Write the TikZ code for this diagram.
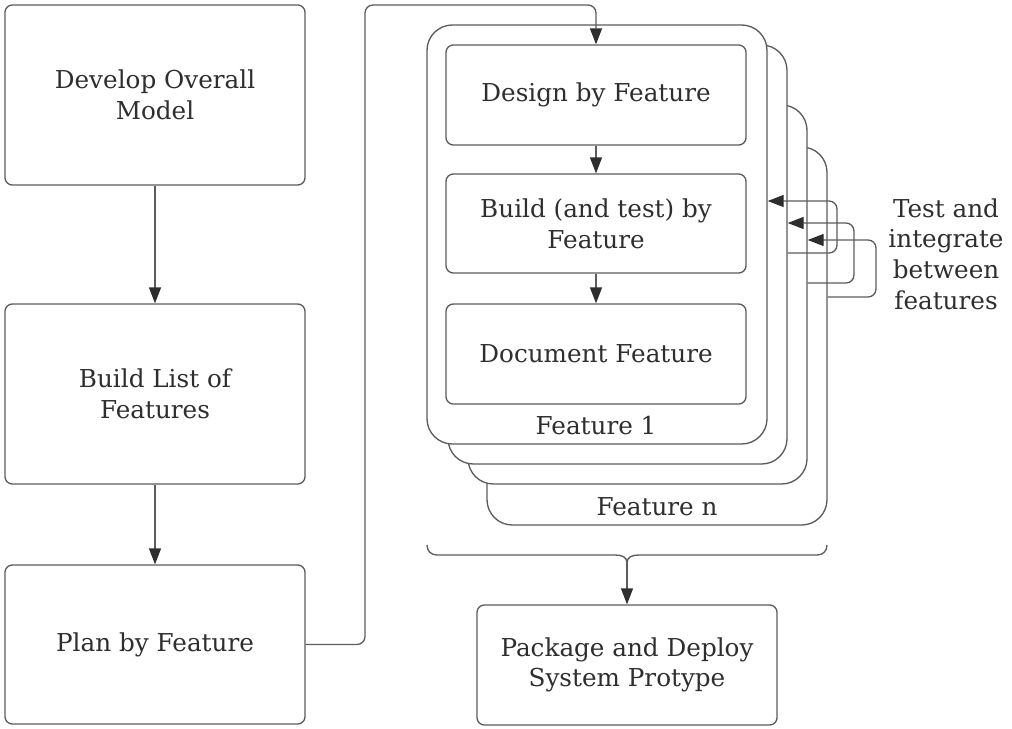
\documentclass[tikz,border=0pt]{standalone}
\usepackage{fontspec}
\setmainfont{DejaVu Serif}
\usetikzlibrary{arrows.meta}
\definecolor{ln}{HTML}{5C5C5C}
\definecolor{tx}{HTML}{2E2E2E}
\tikzset{
  box/.style={draw=ln, line width=1pt, rounded corners=5.5pt, fill=white, inner sep=0pt,
    align=center, text=tx, font=\fontsize{18.5}{23}\selectfont},
  card/.style={draw=ln, line width=1pt, rounded corners=19pt, fill=white, inner sep=0pt},
  lbl/.style={text=tx, align=center, inner sep=0pt, font=\fontsize{18.5}{23}\selectfont},
  conn/.style={draw=ln, line width=1pt, -{Triangle[length=12pt, width=9pt, fill=tx, color=tx]}},
  plain/.style={draw=ln, line width=1pt}
}
\begin{document}
\begin{tikzpicture}[x=0.75pt, y=-0.75pt]
\useasboundingbox (0,0) rectangle (1012,728);
% left column
\node[box, minimum width=225pt, minimum height=135pt] (dev) at (155,95) {Develop Overall\\Model};
\node[box, minimum width=225pt, minimum height=135pt] (list) at (155,394) {Build List of\\Features};
\node[box, minimum width=225pt, minimum height=119.25pt] (plan) at (155,644.5) {Plan by Feature};
\draw[conn] (dev.south) -- (list.north);
\draw[conn] (list.south) -- (plan.north);
% stacked cards
\node[card, minimum width=255pt, minimum height=283.5pt] (card4) at (657,336) {};
\node[card, minimum width=254.25pt, minimum height=284.25pt] (card3) at (637.5,294.5) {};
\node[card, minimum width=254.25pt, minimum height=314.25pt] (card2) at (617.5,254.5) {};
\node[card, minimum width=255pt, minimum height=314.25pt] (card1) at (597,234.5) {};
\node[lbl] (fn) at (657,507) {Feature n};
\node[lbl] (f1) at (596,426) {Feature 1};
% inner boxes
\node[box, minimum width=225pt, minimum height=75pt] (design) at (596,95) {Design by Feature};
\node[box, minimum width=225pt, minimum height=74.25pt] (build) at (596,223.5) {Build (and test) by\\Feature};
\node[box, minimum width=225pt, minimum height=75pt] (docu) at (596,354) {Document Feature};
\draw[conn] (design.south) -- (build.north);
\draw[conn] (build.south) -- (docu.north);
% plan to design
\draw[conn, rounded corners=6pt] (plan.east) -| (365,5) -| (design.north);
% loops
\draw[conn, rounded corners=6pt] (card2.east |- 0,253) -| (837,201) -- (card1.east |- 0,201);
\draw[conn, rounded corners=6pt] (card3.east |- 0,283) -| (854,223) -- (card2.east |- 0,223);
\draw[conn, rounded corners=6pt] (card4.east |- 0,297) -| (876,240) -- (card3.east |- 0,240);
\node[lbl] (test) at (946,254) {Test and\\integrate\\between\\features};
% brace
\coordinate (bracetip) at (627,563);
\draw[plain] (427,545) .. controls (427,551) and (431,555) .. (437,555) -- (615,555)
  .. controls (622,555) and (627,557) .. (bracetip)
  .. controls (627,557) and (632,555) .. (639,555) -- (817,555)
  .. controls (823,555) and (827,551) .. (827,545);
\node[box, minimum width=225pt, minimum height=90pt] (pkg) at (627,665) {Package and Deploy\\System Protype};
\draw[conn] (bracetip) -- (pkg.north);
\end{tikzpicture}
\end{document}
